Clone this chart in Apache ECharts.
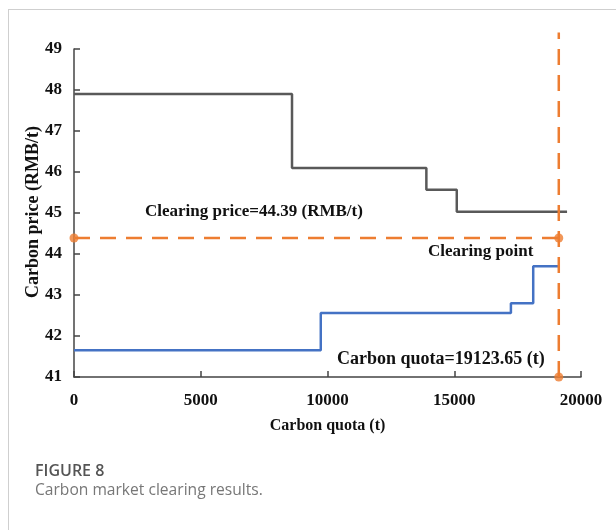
<!DOCTYPE html>
<html>
<head>
<meta charset="utf-8">
<script src="https://cdn.jsdelivr.net/npm/echarts@6/dist/echarts.min.js"></script>
<style>
html,body{margin:0;padding:0;background:#fff;}
#frame{position:absolute;left:8px;top:9px;width:620px;height:540px;border-left:1px solid #cfcfcf;border-top:1px solid #cfcfcf;}
#chart{position:absolute;left:0;top:0;width:616px;height:530px;}
</style>
</head>
<body>
<div id="frame"></div>
<div id="chart"></div>
<script>
// Demand (gray) step curve: breakpoints and price levels
const demandX = [0, 8600, 13900, 15100, 19450];
const demandY = [47.9, 46.1, 45.57, 45.03, 45.03];
// Supply (blue) step curve
const supplyX = [0, 9735, 17235, 18115, 19123.65];
const supplyY = [41.65, 42.56, 42.8, 43.7, 43.7];
// Clearing result
const clearingQuota = 19123.65;
const clearingPrice = 44.39;
const yTicks = [41, 42, 43, 44, 45, 46, 47, 48, 49];
const xTicks = [0, 5000, 10000, 15000, 20000];
const verticalTop = 49.4;

const serif = '"Liberation Serif","Times New Roman",serif';
const chart = echarts.init(document.getElementById('chart'));
const zip = (xs, ys) => xs.map((x, i) => [x, ys[i]]);

chart.setOption({
  animation: false,
  grid: {left: 74, right: 35, top: 49, bottom: 153},
  xAxis: {
    type: 'value', min: xTicks[0], max: xTicks[xTicks.length - 1], interval: 5000,
    name: 'Carbon quota (t)', nameLocation: 'middle', nameGap: 41,
    nameTextStyle: {fontFamily: serif, fontWeight: 'bold', fontSize: 16, color: '#111'},
    axisLine: {lineStyle: {color: '#444', width: 1.5}},
    axisTick: {inside: true, length: 6, lineStyle: {color: '#444', width: 1.5}},
    axisLabel: {fontFamily: serif, fontWeight: 'bold', fontSize: 17, color: '#111', margin: 15,
      formatter: v => String(v)},
    splitLine: {show: false}
  },
  yAxis: {
    type: 'value', min: yTicks[0], max: yTicks[yTicks.length - 1], interval: 1,
    axisLine: {show: true, lineStyle: {color: '#444', width: 1.5}},
    axisTick: {show: true, inside: true, length: 6, lineStyle: {color: '#444', width: 1.5}},
    axisLabel: {fontFamily: serif, fontWeight: 'bold', fontSize: 17, color: '#111', margin: 12},
    splitLine: {show: false}
  },
  series: [
    {
      type: 'line', step: 'end', data: zip(demandX, demandY), symbol: 'none',
      lineStyle: {color: '#595959', width: 2.5}
    },
    {
      type: 'line', step: 'end', data: zip(supplyX, supplyY), symbol: 'none',
      lineStyle: {color: '#4472C4', width: 2.5}
    },
    {
      type: 'line', data: [[0, clearingPrice], [clearingQuota, clearingPrice]], symbol: 'none',
      lineStyle: {color: '#ED7D31', width: 2.5, type: [16, 10]}
    },
    {
      type: 'line', clip: false, data: [[clearingQuota, yTicks[0]], [clearingQuota, verticalTop]], symbol: 'none',
      lineStyle: {color: '#ED7D31', width: 2.5, type: [16, 10]}
    },
    {
      type: 'scatter', clip: false, symbolSize: 9,
      data: [[0, clearingPrice], [clearingQuota, clearingPrice], [clearingQuota, yTicks[0]]],
      itemStyle: {color: '#ED7D31'}
    }
  ],
  graphic: [
    {type: 'text', x: 33, y: 212, rotation: Math.PI / 2,
      style: {text: 'Carbon price (RMB/t)', font: 'bold 18px ' + serif, fill: '#111', textAlign: 'center', textVerticalAlign: 'middle'}},
    {type: 'text', left: 145, top: 203, style: {text: 'Clearing price=44.39 (RMB/t)', font: 'bold 17px ' + serif, fill: '#111'}},
    {type: 'text', left: 428, top: 243, style: {text: 'Clearing point', font: 'bold 17px ' + serif, fill: '#111'}},
    {type: 'text', left: 337, top: 350, style: {text: 'Carbon quota=19123.65 (t)', font: 'bold 18px ' + serif, fill: '#111'}},
    {type: 'text', left: 35, top: 463, style: {text: 'FIGURE 8', font: '600 16px "Open Sans", "Noto Sans", sans-serif', fill: '#555'}},
    {type: 'text', left: 35, top: 483, style: {text: 'Carbon market clearing results.', font: '15.6px "Open Sans", "Noto Sans", sans-serif', fill: '#777'}}
  ]
});
</script>
</body>
</html>
